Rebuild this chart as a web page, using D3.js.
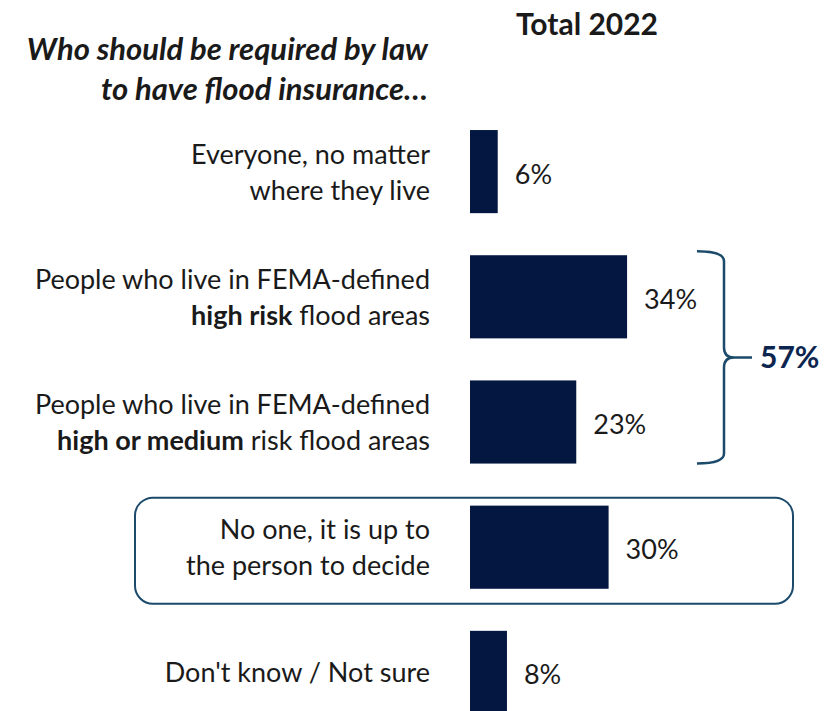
<!DOCTYPE html>
<html>
<head>
<meta charset="utf-8">
<script src="https://cdn.jsdelivr.net/npm/d3@7"></script>
<style>
  body { margin: 0; background: #fff; }
  text { font-family: Lato, "Noto Sans", sans-serif; fill: #1a1a1a; }
</style>
</head>
<body>
<div id="chart"></div>
<script>
// Data
const categories = ["everyone", "high", "highMedium", "noOne", "dontKnow"];
const labelLines = [
  ["Everyone, no matter", "where they live"],
  ["People who live in FEMA-defined", "**high risk** flood areas"],
  ["People who live in FEMA-defined", "**high or medium** risk flood areas"],
  ["No one, it is up to", "the person to decide"],
  ["Don't know / Not sure"]
];
const values = [6, 34, 23, 30, 8];
const netLabel = "57%";
const seriesName = "Total 2022";
const titleLines = ["Who should be required by law", "to have  flood insurance\u2026"];

const width = 824, height = 711;
const barColor = "#031741", accent = "#1b4a6b";

const svg = d3.select("#chart")
  .append("svg")
    .attr("width", width)
    .attr("height", height);

// Scales
const x = d3.scaleLinear()
  .domain([0, 100])
  .range([470, 470 + 462]);

const y = d3.scaleBand()
  .domain(categories)
  .range([109, 735])
  .paddingInner(0.336)
  .paddingOuter(0.168);

// Highlight box around "No one"
svg.append("rect")
  .attr("x", 135)
  .attr("y", y("noOne") - 8)
  .attr("width", 658)
  .attr("height", y.bandwidth() + 23)
  .attr("rx", 18)
  .attr("fill", "none")
  .attr("stroke", accent)
  .attr("stroke-width", 2);

// Bars
svg.selectAll(".bar")
  .data(values)
  .join("rect")
    .attr("class", "bar")
    .attr("x", x(0))
    .attr("y", (d, i) => y(categories[i]))
    .attr("width", d => x(d) - x(0))
    .attr("height", y.bandwidth())
    .attr("fill", barColor);

// Value labels
svg.selectAll(".val")
  .data(values)
  .join("text")
    .attr("class", "val")
    .attr("x", d => x(d) + 17)
    .attr("y", (d, i) => y(categories[i]) + y.bandwidth() / 2 + 12)
    .style("font-size", "27px")
    .text(d => d + "%");

// Category labels (with **bold** parts)
const lineH = 36;
labelLines.forEach((lines, i) => {
  const cy = y(categories[i]) + y.bandwidth() / 2;
  const top = cy - (lines.length - 1) * lineH / 2 + 10;
  const t = svg.append("text")
    .attr("text-anchor", "end")
    .style("font-size", "27px");
  lines.forEach((ln, j) => {
    const line = t.append("tspan")
      .attr("x", 430)
      .attr("y", top + j * lineH);
    ln.split("**").forEach((part, k) => {
      if (!part) return;
      line.append("tspan")
        .style("font-weight", k % 2 ? "bold" : "normal")
        .text(part);
    });
  });
});

// Title
svg.append("text")
  .attr("text-anchor", "end")
  .style("font-size", "31px")
  .style("font-weight", "bold")
  .style("font-style", "italic")
  .selectAll("tspan")
  .data(titleLines)
  .join("tspan")
    .attr("x", 428)
    .attr("y", (d, i) => 60 + i * 40)
    .text(d => d);

// Series header
svg.append("text")
  .attr("x", 587)
  .attr("y", 35)
  .attr("text-anchor", "middle")
  .style("font-size", "30px")
  .style("font-weight", "bold")
  .text(seriesName);

// Brace for the net of high + high/medium
const b0 = y("high") - 4, b1 = y("highMedium") + y.bandwidth(), bm = (b0 + b1) / 2;
const bx = 697, bw = 30;
svg.append("path")
  .attr("d", `M${bx},${b0} Q${bx + bw - 3},${b0} ${bx + bw - 3},${b0 + 10}
    L${bx + bw - 3},${bm - 10} Q${bx + bw - 3},${bm} ${bx + bw + 7},${bm} L${bx + bw + 25},${bm}
    M${bx + bw + 7},${bm} Q${bx + bw - 3},${bm} ${bx + bw - 3},${bm + 10}
    L${bx + bw - 3},${b1 - 10} Q${bx + bw - 3},${b1} ${bx},${b1}`)
  .attr("fill", "none")
  .attr("stroke", accent)
  .attr("stroke-width", 2.5);

svg.append("text")
  .attr("x", 760)
  .attr("y", bm + 11)
  .style("font-size", "30px")
  .style("font-weight", "bold")
  .style("fill", "#0d2650")
  .text(netLabel);
</script>
</body>
</html>
